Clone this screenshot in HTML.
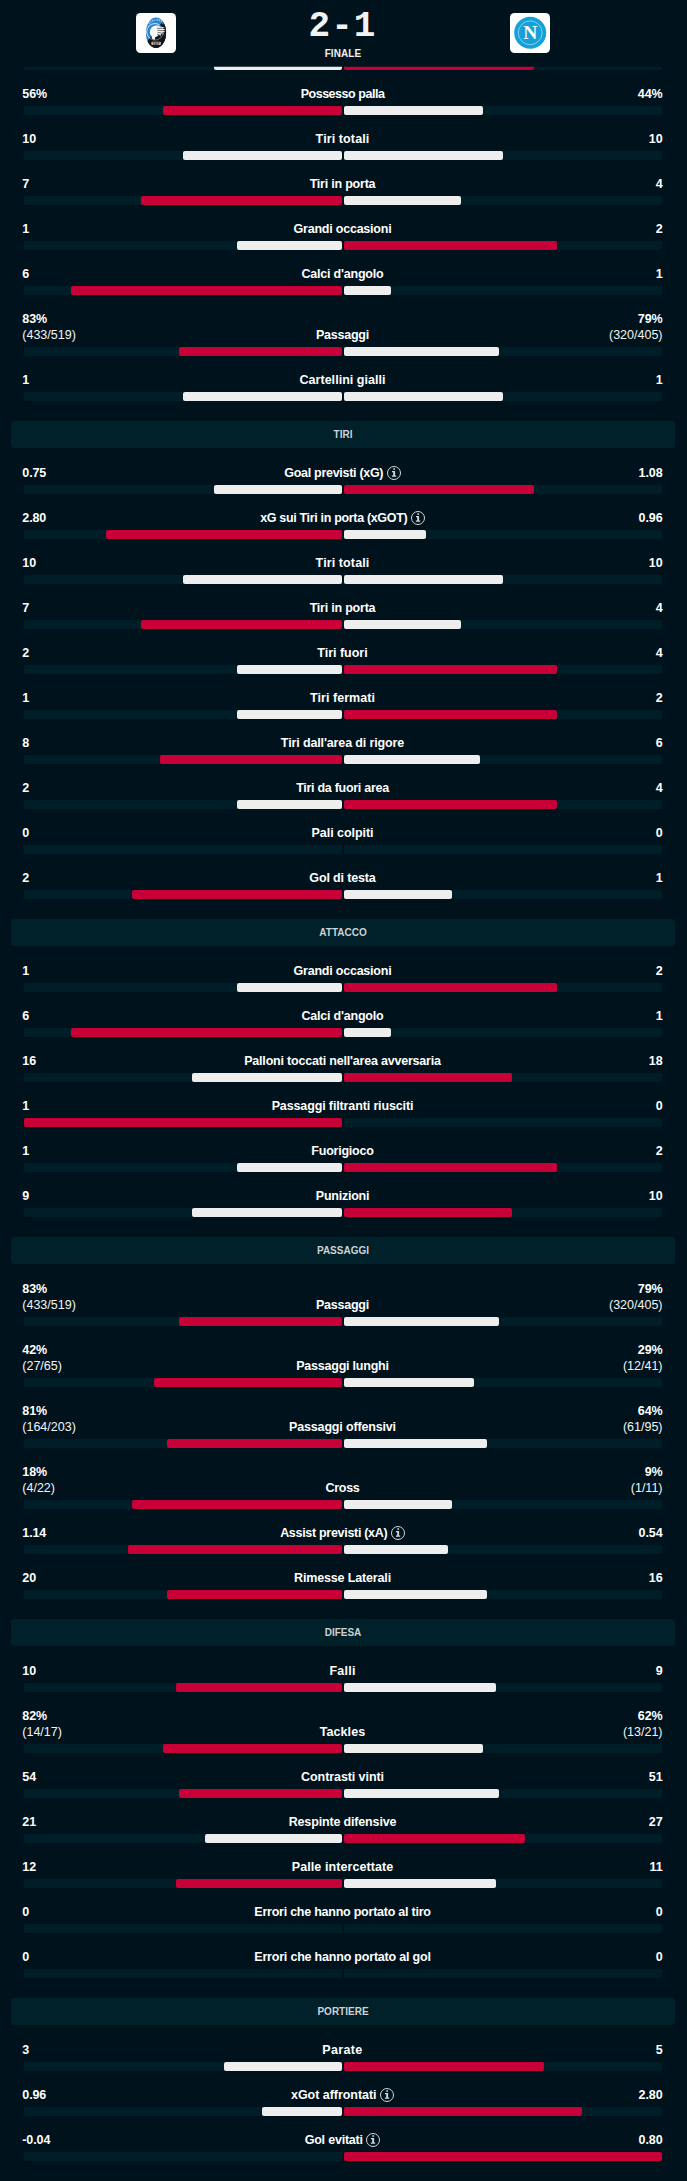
<!DOCTYPE html>
<html lang="it"><head><meta charset="utf-8"><title>Atalanta 2-1 Napoli - Statistiche</title>
<style>
html,body{margin:0;padding:0;background:#00131c;}
body{width:687px;height:2181px;position:relative;overflow:hidden;font-family:"Liberation Sans",sans-serif;color:#fff;}
.r{position:absolute;left:0;width:687px;}
.v{position:absolute;top:10px;font-size:12.5px;line-height:16px;white-space:nowrap;letter-spacing:-0.1px;color:#fff}
.v b{font-weight:bold}
.v span{font-weight:normal;letter-spacing:0;color:#f4f4f4}
.vl{left:22.3px;text-align:left}
.vr{right:24.5px;text-align:right}
.c{position:absolute;left:-1px;width:687px;height:16px;display:flex;justify-content:center;align-items:center;font-size:12.5px;line-height:16px;white-space:nowrap;letter-spacing:-0.2px}
.c b{font-weight:bold;display:block}
.c .i{display:block;margin-left:3.5px;margin-top:0;flex:none}
.t{position:absolute;height:9px;background:#001e28}
.tl{left:24px;width:318px;border-radius:2px 0 0 2px}
.tr{left:344px;width:318px;border-radius:0 2px 2px 0}
.b{position:absolute;height:9px;}
.b.red{background:#c80037}
.b.wh{background:#eeeeee}
.b{border-radius:2px}
.h{position:absolute;left:11px;width:664px;height:27px;line-height:27px;background:#00202a;border-radius:3px;text-align:center;font-size:10px;font-weight:bold;letter-spacing:0;color:#ccd2d5}
#top{position:absolute;left:0;top:0;width:687px;height:66px;background:#00131c;box-shadow:0 1px 0 rgba(0,19,28,.75)}
#top .lg{position:absolute;top:13px;width:40px;height:40px}
#score{position:absolute;left:-1px;width:687px;top:9px;text-align:center;font-family:"Liberation Mono","Liberation Sans",monospace;font-weight:bold;font-size:36px;line-height:36px;color:#f2f2f2;letter-spacing:1px;text-indent:0px}
#fin{position:absolute;left:-0.5px;width:687px;top:47px;text-align:center;font-size:10px;line-height:14px;font-weight:bold;color:#f0f0f0;letter-spacing:0.1px}
</style></head><body>
<div class="t tl" style="top:61px"></div><div class="t tr" style="top:61px"></div>
<div class="b wh" style="top:61px;left:214px;width:128px"></div>
<div class="b red" style="top:61px;left:344px;width:190px"></div>
<div class="r" style="top:76px;height:45px">
<div class="v vl"><b>56%</b></div><div class="v vr"><b>44%</b></div>
<div class="c" style="top:10px"><b style="letter-spacing:-0.47px">Possesso palla</b></div>
<div class="t tl" style="top:30px"></div><div class="t tr" style="top:30px"></div>
<div class="b red" style="top:30px;left:163px;width:179px"></div>
<div class="b wh" style="top:30px;left:344px;width:139px"></div>
</div>
<div class="r" style="top:121px;height:45px">
<div class="v vl"><b>10</b></div><div class="v vr"><b>10</b></div>
<div class="c" style="top:10px"><b style="letter-spacing:0.11px">Tiri totali</b></div>
<div class="t tl" style="top:30px"></div><div class="t tr" style="top:30px"></div>
<div class="b wh" style="top:30px;left:183px;width:159px"></div>
<div class="b wh" style="top:30px;left:344px;width:159px"></div>
</div>
<div class="r" style="top:166px;height:45px">
<div class="v vl"><b>7</b></div><div class="v vr"><b>4</b></div>
<div class="c" style="top:10px"><b style="letter-spacing:-0.22px">Tiri in porta</b></div>
<div class="t tl" style="top:30px"></div><div class="t tr" style="top:30px"></div>
<div class="b red" style="top:30px;left:141px;width:201px"></div>
<div class="b wh" style="top:30px;left:344px;width:117px"></div>
</div>
<div class="r" style="top:211px;height:45px">
<div class="v vl"><b>1</b></div><div class="v vr"><b>2</b></div>
<div class="c" style="top:10px"><b style="letter-spacing:-0.22px">Grandi occasioni</b></div>
<div class="t tl" style="top:30px"></div><div class="t tr" style="top:30px"></div>
<div class="b wh" style="top:30px;left:237px;width:105px"></div>
<div class="b red" style="top:30px;left:344px;width:213px"></div>
</div>
<div class="r" style="top:256px;height:45px">
<div class="v vl"><b>6</b></div><div class="v vr"><b>1</b></div>
<div class="c" style="top:10px"><b style="letter-spacing:-0.22px">Calci d&#x27;angolo</b></div>
<div class="t tl" style="top:30px"></div><div class="t tr" style="top:30px"></div>
<div class="b red" style="top:30px;left:71px;width:271px"></div>
<div class="b wh" style="top:30px;left:344px;width:47px"></div>
</div>
<div class="r" style="top:301px;height:61px">
<div class="v vl"><b>83%</b><br><span>(433/519)</span></div><div class="v vr"><b>79%</b><br><span>(320/405)</span></div>
<div class="c" style="top:26px"><b style="letter-spacing:-0.24px">Passaggi</b></div>
<div class="t tl" style="top:46px"></div><div class="t tr" style="top:46px"></div>
<div class="b red" style="top:46px;left:179px;width:163px"></div>
<div class="b wh" style="top:46px;left:344px;width:155px"></div>
</div>
<div class="r" style="top:362px;height:45px">
<div class="v vl"><b>1</b></div><div class="v vr"><b>1</b></div>
<div class="c" style="top:10px"><b style="letter-spacing:0.03px">Cartellini gialli</b></div>
<div class="t tl" style="top:30px"></div><div class="t tr" style="top:30px"></div>
<div class="b wh" style="top:30px;left:183px;width:159px"></div>
<div class="b wh" style="top:30px;left:344px;width:159px"></div>
</div>
<div class="h" style="top:421px">TIRI</div>
<div class="r" style="top:455px;height:45px">
<div class="v vl"><b>0.75</b></div><div class="v vr"><b>1.08</b></div>
<div class="c" style="top:10px"><b style="letter-spacing:-0.29px">Goal previsti (xG)</b><svg class="i" width="14" height="14" viewBox="0 0 14 14"><circle cx="7" cy="7" r="6.5" fill="none" stroke="#d2d7d8" stroke-width="1"/><path d="M5 4.900H8.100V9.400H9.200V10.800H4.900V9.400H6.200V6.200H5z" fill="#d2d7d8"/><rect x="6.200" y="2.300" width="1.900" height="1.500" rx=".4" fill="#d2d7d8"/></svg></div>
<div class="t tl" style="top:30px"></div><div class="t tr" style="top:30px"></div>
<div class="b wh" style="top:30px;left:214px;width:128px"></div>
<div class="b red" style="top:30px;left:344px;width:190px"></div>
</div>
<div class="r" style="top:500px;height:45px">
<div class="v vl"><b>2.80</b></div><div class="v vr"><b>0.96</b></div>
<div class="c" style="top:10px"><b style="letter-spacing:-0.33px">xG sui Tiri in porta (xGOT)</b><svg class="i" width="14" height="14" viewBox="0 0 14 14"><circle cx="7" cy="7" r="6.5" fill="none" stroke="#d2d7d8" stroke-width="1"/><path d="M5 4.900H8.100V9.400H9.200V10.800H4.900V9.400H6.200V6.200H5z" fill="#d2d7d8"/><rect x="6.200" y="2.300" width="1.900" height="1.500" rx=".4" fill="#d2d7d8"/></svg></div>
<div class="t tl" style="top:30px"></div><div class="t tr" style="top:30px"></div>
<div class="b red" style="top:30px;left:106px;width:236px"></div>
<div class="b wh" style="top:30px;left:344px;width:82px"></div>
</div>
<div class="r" style="top:545px;height:45px">
<div class="v vl"><b>10</b></div><div class="v vr"><b>10</b></div>
<div class="c" style="top:10px"><b style="letter-spacing:0.11px">Tiri totali</b></div>
<div class="t tl" style="top:30px"></div><div class="t tr" style="top:30px"></div>
<div class="b wh" style="top:30px;left:183px;width:159px"></div>
<div class="b wh" style="top:30px;left:344px;width:159px"></div>
</div>
<div class="r" style="top:590px;height:45px">
<div class="v vl"><b>7</b></div><div class="v vr"><b>4</b></div>
<div class="c" style="top:10px"><b style="letter-spacing:-0.22px">Tiri in porta</b></div>
<div class="t tl" style="top:30px"></div><div class="t tr" style="top:30px"></div>
<div class="b red" style="top:30px;left:141px;width:201px"></div>
<div class="b wh" style="top:30px;left:344px;width:117px"></div>
</div>
<div class="r" style="top:635px;height:45px">
<div class="v vl"><b>2</b></div><div class="v vr"><b>4</b></div>
<div class="c" style="top:10px"><b style="letter-spacing:-0.01px">Tiri fuori</b></div>
<div class="t tl" style="top:30px"></div><div class="t tr" style="top:30px"></div>
<div class="b wh" style="top:30px;left:237px;width:105px"></div>
<div class="b red" style="top:30px;left:344px;width:213px"></div>
</div>
<div class="r" style="top:680px;height:45px">
<div class="v vl"><b>1</b></div><div class="v vr"><b>2</b></div>
<div class="c" style="top:10px"><b style="letter-spacing:0.05px">Tiri fermati</b></div>
<div class="t tl" style="top:30px"></div><div class="t tr" style="top:30px"></div>
<div class="b wh" style="top:30px;left:237px;width:105px"></div>
<div class="b red" style="top:30px;left:344px;width:213px"></div>
</div>
<div class="r" style="top:725px;height:45px">
<div class="v vl"><b>8</b></div><div class="v vr"><b>6</b></div>
<div class="c" style="top:10px"><b style="letter-spacing:-0.13px">Tiri dall&#x27;area di rigore</b></div>
<div class="t tl" style="top:30px"></div><div class="t tr" style="top:30px"></div>
<div class="b red" style="top:30px;left:160px;width:182px"></div>
<div class="b wh" style="top:30px;left:344px;width:136px"></div>
</div>
<div class="r" style="top:770px;height:45px">
<div class="v vl"><b>2</b></div><div class="v vr"><b>4</b></div>
<div class="c" style="top:10px"><b style="letter-spacing:-0.28px">Tiri da fuori area</b></div>
<div class="t tl" style="top:30px"></div><div class="t tr" style="top:30px"></div>
<div class="b wh" style="top:30px;left:237px;width:105px"></div>
<div class="b red" style="top:30px;left:344px;width:213px"></div>
</div>
<div class="r" style="top:815px;height:45px">
<div class="v vl"><b>0</b></div><div class="v vr"><b>0</b></div>
<div class="c" style="top:10px"><b style="letter-spacing:-0.05px">Pali colpiti</b></div>
<div class="t tl" style="top:30px"></div><div class="t tr" style="top:30px"></div>
</div>
<div class="r" style="top:860px;height:45px">
<div class="v vl"><b>2</b></div><div class="v vr"><b>1</b></div>
<div class="c" style="top:10px"><b style="letter-spacing:-0.14px">Gol di testa</b></div>
<div class="t tl" style="top:30px"></div><div class="t tr" style="top:30px"></div>
<div class="b red" style="top:30px;left:132px;width:210px"></div>
<div class="b wh" style="top:30px;left:344px;width:108px"></div>
</div>
<div class="h" style="top:919px">ATTACCO</div>
<div class="r" style="top:953px;height:45px">
<div class="v vl"><b>1</b></div><div class="v vr"><b>2</b></div>
<div class="c" style="top:10px"><b style="letter-spacing:-0.22px">Grandi occasioni</b></div>
<div class="t tl" style="top:30px"></div><div class="t tr" style="top:30px"></div>
<div class="b wh" style="top:30px;left:237px;width:105px"></div>
<div class="b red" style="top:30px;left:344px;width:213px"></div>
</div>
<div class="r" style="top:998px;height:45px">
<div class="v vl"><b>6</b></div><div class="v vr"><b>1</b></div>
<div class="c" style="top:10px"><b style="letter-spacing:-0.22px">Calci d&#x27;angolo</b></div>
<div class="t tl" style="top:30px"></div><div class="t tr" style="top:30px"></div>
<div class="b red" style="top:30px;left:71px;width:271px"></div>
<div class="b wh" style="top:30px;left:344px;width:47px"></div>
</div>
<div class="r" style="top:1043px;height:45px">
<div class="v vl"><b>16</b></div><div class="v vr"><b>18</b></div>
<div class="c" style="top:10px"><b>Palloni toccati nell&#x27;area avversaria</b></div>
<div class="t tl" style="top:30px"></div><div class="t tr" style="top:30px"></div>
<div class="b wh" style="top:30px;left:192px;width:150px"></div>
<div class="b red" style="top:30px;left:344px;width:168px"></div>
</div>
<div class="r" style="top:1088px;height:45px">
<div class="v vl"><b>1</b></div><div class="v vr"><b>0</b></div>
<div class="c" style="top:10px"><b style="letter-spacing:-0.13px">Passaggi filtranti riusciti</b></div>
<div class="t tl" style="top:30px"></div><div class="t tr" style="top:30px"></div>
<div class="b red" style="top:30px;left:24px;width:318px"></div>
</div>
<div class="r" style="top:1133px;height:45px">
<div class="v vl"><b>1</b></div><div class="v vr"><b>2</b></div>
<div class="c" style="top:10px"><b style="letter-spacing:-0.23px">Fuorigioco</b></div>
<div class="t tl" style="top:30px"></div><div class="t tr" style="top:30px"></div>
<div class="b wh" style="top:30px;left:237px;width:105px"></div>
<div class="b red" style="top:30px;left:344px;width:213px"></div>
</div>
<div class="r" style="top:1178px;height:45px">
<div class="v vl"><b>9</b></div><div class="v vr"><b>10</b></div>
<div class="c" style="top:10px"><b style="letter-spacing:-0.24px">Punizioni</b></div>
<div class="t tl" style="top:30px"></div><div class="t tr" style="top:30px"></div>
<div class="b wh" style="top:30px;left:192px;width:150px"></div>
<div class="b red" style="top:30px;left:344px;width:168px"></div>
</div>
<div class="h" style="top:1237px">PASSAGGI</div>
<div class="r" style="top:1271px;height:61px">
<div class="v vl"><b>83%</b><br><span>(433/519)</span></div><div class="v vr"><b>79%</b><br><span>(320/405)</span></div>
<div class="c" style="top:26px"><b style="letter-spacing:-0.24px">Passaggi</b></div>
<div class="t tl" style="top:46px"></div><div class="t tr" style="top:46px"></div>
<div class="b red" style="top:46px;left:179px;width:163px"></div>
<div class="b wh" style="top:46px;left:344px;width:155px"></div>
</div>
<div class="r" style="top:1332px;height:61px">
<div class="v vl"><b>42%</b><br><span>(27/65)</span></div><div class="v vr"><b>29%</b><br><span>(12/41)</span></div>
<div class="c" style="top:26px"><b style="letter-spacing:-0.22px">Passaggi lunghi</b></div>
<div class="t tl" style="top:46px"></div><div class="t tr" style="top:46px"></div>
<div class="b red" style="top:46px;left:154px;width:188px"></div>
<div class="b wh" style="top:46px;left:344px;width:130px"></div>
</div>
<div class="r" style="top:1393px;height:61px">
<div class="v vl"><b>81%</b><br><span>(164/203)</span></div><div class="v vr"><b>64%</b><br><span>(61/95)</span></div>
<div class="c" style="top:26px"><b style="letter-spacing:-0.16px">Passaggi offensivi</b></div>
<div class="t tl" style="top:46px"></div><div class="t tr" style="top:46px"></div>
<div class="b red" style="top:46px;left:167px;width:175px"></div>
<div class="b wh" style="top:46px;left:344px;width:143px"></div>
</div>
<div class="r" style="top:1454px;height:61px">
<div class="v vl"><b>18%</b><br><span>(4/22)</span></div><div class="v vr"><b>9%</b><br><span>(1/11)</span></div>
<div class="c" style="top:26px"><b style="letter-spacing:-0.27px">Cross</b></div>
<div class="t tl" style="top:46px"></div><div class="t tr" style="top:46px"></div>
<div class="b red" style="top:46px;left:132px;width:210px"></div>
<div class="b wh" style="top:46px;left:344px;width:108px"></div>
</div>
<div class="r" style="top:1515px;height:45px">
<div class="v vl"><b>1.14</b></div><div class="v vr"><b>0.54</b></div>
<div class="c" style="top:10px"><b style="letter-spacing:-0.30px">Assist previsti (xA)</b><svg class="i" width="14" height="14" viewBox="0 0 14 14"><circle cx="7" cy="7" r="6.5" fill="none" stroke="#d2d7d8" stroke-width="1"/><path d="M5 4.900H8.100V9.400H9.200V10.800H4.900V9.400H6.200V6.200H5z" fill="#d2d7d8"/><rect x="6.200" y="2.300" width="1.900" height="1.500" rx=".4" fill="#d2d7d8"/></svg></div>
<div class="t tl" style="top:30px"></div><div class="t tr" style="top:30px"></div>
<div class="b red" style="top:30px;left:128px;width:214px"></div>
<div class="b wh" style="top:30px;left:344px;width:104px"></div>
</div>
<div class="r" style="top:1560px;height:45px">
<div class="v vl"><b>20</b></div><div class="v vr"><b>16</b></div>
<div class="c" style="top:10px"><b style="letter-spacing:-0.15px">Rimesse Laterali</b></div>
<div class="t tl" style="top:30px"></div><div class="t tr" style="top:30px"></div>
<div class="b red" style="top:30px;left:167px;width:175px"></div>
<div class="b wh" style="top:30px;left:344px;width:143px"></div>
</div>
<div class="h" style="top:1619px">DIFESA</div>
<div class="r" style="top:1653px;height:45px">
<div class="v vl"><b>10</b></div><div class="v vr"><b>9</b></div>
<div class="c" style="top:10px"><b style="letter-spacing:0.23px">Falli</b></div>
<div class="t tl" style="top:30px"></div><div class="t tr" style="top:30px"></div>
<div class="b red" style="top:30px;left:176px;width:166px"></div>
<div class="b wh" style="top:30px;left:344px;width:152px"></div>
</div>
<div class="r" style="top:1698px;height:61px">
<div class="v vl"><b>82%</b><br><span>(14/17)</span></div><div class="v vr"><b>62%</b><br><span>(13/21)</span></div>
<div class="c" style="top:26px"><b style="letter-spacing:0.08px">Tackles</b></div>
<div class="t tl" style="top:46px"></div><div class="t tr" style="top:46px"></div>
<div class="b red" style="top:46px;left:163px;width:179px"></div>
<div class="b wh" style="top:46px;left:344px;width:139px"></div>
</div>
<div class="r" style="top:1759px;height:45px">
<div class="v vl"><b>54</b></div><div class="v vr"><b>51</b></div>
<div class="c" style="top:10px"><b style="letter-spacing:-0.08px">Contrasti vinti</b></div>
<div class="t tl" style="top:30px"></div><div class="t tr" style="top:30px"></div>
<div class="b red" style="top:30px;left:179px;width:163px"></div>
<div class="b wh" style="top:30px;left:344px;width:155px"></div>
</div>
<div class="r" style="top:1804px;height:45px">
<div class="v vl"><b>21</b></div><div class="v vr"><b>27</b></div>
<div class="c" style="top:10px"><b style="letter-spacing:-0.16px">Respinte difensive</b></div>
<div class="t tl" style="top:30px"></div><div class="t tr" style="top:30px"></div>
<div class="b wh" style="top:30px;left:205px;width:137px"></div>
<div class="b red" style="top:30px;left:344px;width:181px"></div>
</div>
<div class="r" style="top:1849px;height:45px">
<div class="v vl"><b>12</b></div><div class="v vr"><b>11</b></div>
<div class="c" style="top:10px"><b style="letter-spacing:0.08px">Palle intercettate</b></div>
<div class="t tl" style="top:30px"></div><div class="t tr" style="top:30px"></div>
<div class="b red" style="top:30px;left:176px;width:166px"></div>
<div class="b wh" style="top:30px;left:344px;width:152px"></div>
</div>
<div class="r" style="top:1894px;height:45px">
<div class="v vl"><b>0</b></div><div class="v vr"><b>0</b></div>
<div class="c" style="top:10px"><b style="letter-spacing:-0.24px">Errori che hanno portato al tiro</b></div>
<div class="t tl" style="top:30px"></div><div class="t tr" style="top:30px"></div>
</div>
<div class="r" style="top:1939px;height:45px">
<div class="v vl"><b>0</b></div><div class="v vr"><b>0</b></div>
<div class="c" style="top:10px"><b>Errori che hanno portato al gol</b></div>
<div class="t tl" style="top:30px"></div><div class="t tr" style="top:30px"></div>
</div>
<div class="h" style="top:1998px">PORTIERE</div>
<div class="r" style="top:2032px;height:45px">
<div class="v vl"><b>3</b></div><div class="v vr"><b>5</b></div>
<div class="c" style="top:10px"><b style="letter-spacing:0.34px">Parate</b></div>
<div class="t tl" style="top:30px"></div><div class="t tr" style="top:30px"></div>
<div class="b wh" style="top:30px;left:224px;width:118px"></div>
<div class="b red" style="top:30px;left:344px;width:200px"></div>
</div>
<div class="r" style="top:2077px;height:45px">
<div class="v vl"><b>0.96</b></div><div class="v vr"><b>2.80</b></div>
<div class="c" style="top:10px"><b style="letter-spacing:-0.04px">xGot affrontati</b><svg class="i" width="14" height="14" viewBox="0 0 14 14"><circle cx="7" cy="7" r="6.5" fill="none" stroke="#d2d7d8" stroke-width="1"/><path d="M5 4.900H8.100V9.400H9.200V10.800H4.900V9.400H6.200V6.200H5z" fill="#d2d7d8"/><rect x="6.200" y="2.300" width="1.900" height="1.500" rx=".4" fill="#d2d7d8"/></svg></div>
<div class="t tl" style="top:30px"></div><div class="t tr" style="top:30px"></div>
<div class="b wh" style="top:30px;left:262px;width:80px"></div>
<div class="b red" style="top:30px;left:344px;width:238px"></div>
</div>
<div class="r" style="top:2122px;height:45px">
<div class="v vl"><b>-0.04</b></div><div class="v vr"><b>0.80</b></div>
<div class="c" style="top:10px"><b>Gol evitati</b><svg class="i" width="14" height="14" viewBox="0 0 14 14"><circle cx="7" cy="7" r="6.5" fill="none" stroke="#d2d7d8" stroke-width="1"/><path d="M5 4.900H8.100V9.400H9.200V10.800H4.900V9.400H6.200V6.200H5z" fill="#d2d7d8"/><rect x="6.200" y="2.300" width="1.900" height="1.500" rx=".4" fill="#d2d7d8"/></svg></div>
<div class="t tl" style="top:30px"></div><div class="t tr" style="top:30px"></div>
<div class="b red" style="top:30px;left:344px;width:318px"></div>
</div>
<div id="top">
<div class="lg" style="left:136px"><svg width="40" height="40" viewBox="0 0 40 40">
<rect width="40" height="40" rx="4.500" fill="#fff"/>
<clipPath id="ac"><ellipse cx="20" cy="19.700" rx="10.100" ry="15.300"/></clipPath>
<g clip-path="url(#ac)">
<rect x="8" y="3" width="24" height="34" fill="#2a83cd"/>
<path d="M27.500 7.500 L31 7.500 31 36 9 36 9 30.500 12.500 27 Z" fill="#15161a"/>
<circle cx="19" cy="18.800" r="8.300" fill="none" stroke="#fff" stroke-width=".8"/>
<path d="M27.500 7.500 L31 7.500 31 36 9 36 9 30.500 12.500 27 Z" fill="#15161a" opacity=".55"/>
<path d="M14.300 21.500c-1.200-3.600.4-7.200 3.800-8.500 2.600-1 5.400-.3 7.300 1.300l3.200-.3-2.200 1.700 3.300.6-3 1.200 2.900 1.500-3.400.3 1.900 2.300-3.300-.8.300 2.800-2.300-2c-.8 1.300-2 2.300-3.600 2.700l-.6 2.700-2.900-1.500c.3-1.200 0-2.600-1.400-4z" fill="#f7f8fa"/>
<path d="M21 15.200l5.500.3M21.500 17.200l6 .6M21.500 19.200l5.500 1.300M21 21.200l4 1.700" stroke="#3a3d45" stroke-width=".7" fill="none"/>
<rect x="15.400" y="28.700" width="9.400" height="3.300" rx=".8" fill="#d9dde2" opacity=".85"/>
<text x="20.100" y="31.500" text-anchor="middle" font-family="Liberation Sans, sans-serif" font-weight="bold" font-size="3.200" fill="#15161a">1907</text>
<path id="aarc" d="M12.200 12.500 Q20 2.500 27.800 12.500" fill="none"/>
<text font-family="Liberation Sans, sans-serif" font-weight="bold" font-size="2.800" fill="#cfe4f6" letter-spacing=".3"><textPath href="#aarc" startOffset="50%" text-anchor="middle">ATALANTA</textPath></text>
</g>
</svg></div>
<div class="lg" style="left:510px"><svg width="40" height="40" viewBox="0 0 40 40">
<rect width="40" height="40" rx="4.500" fill="#fff"/>
<circle cx="20.200" cy="19.800" r="16" fill="#14a0d8"/>
<circle cx="20.200" cy="19.800" r="11.900" fill="none" stroke="#e6f5fc" stroke-width=".55"/>
<text x="20.300" y="26.300" text-anchor="middle" font-family="Liberation Serif, serif" font-weight="bold" font-size="19.500" fill="#fff">N</text>
</svg></div>
<div id="score">2-1</div>
<div id="fin">FINALE</div>
</div>
</body></html>
